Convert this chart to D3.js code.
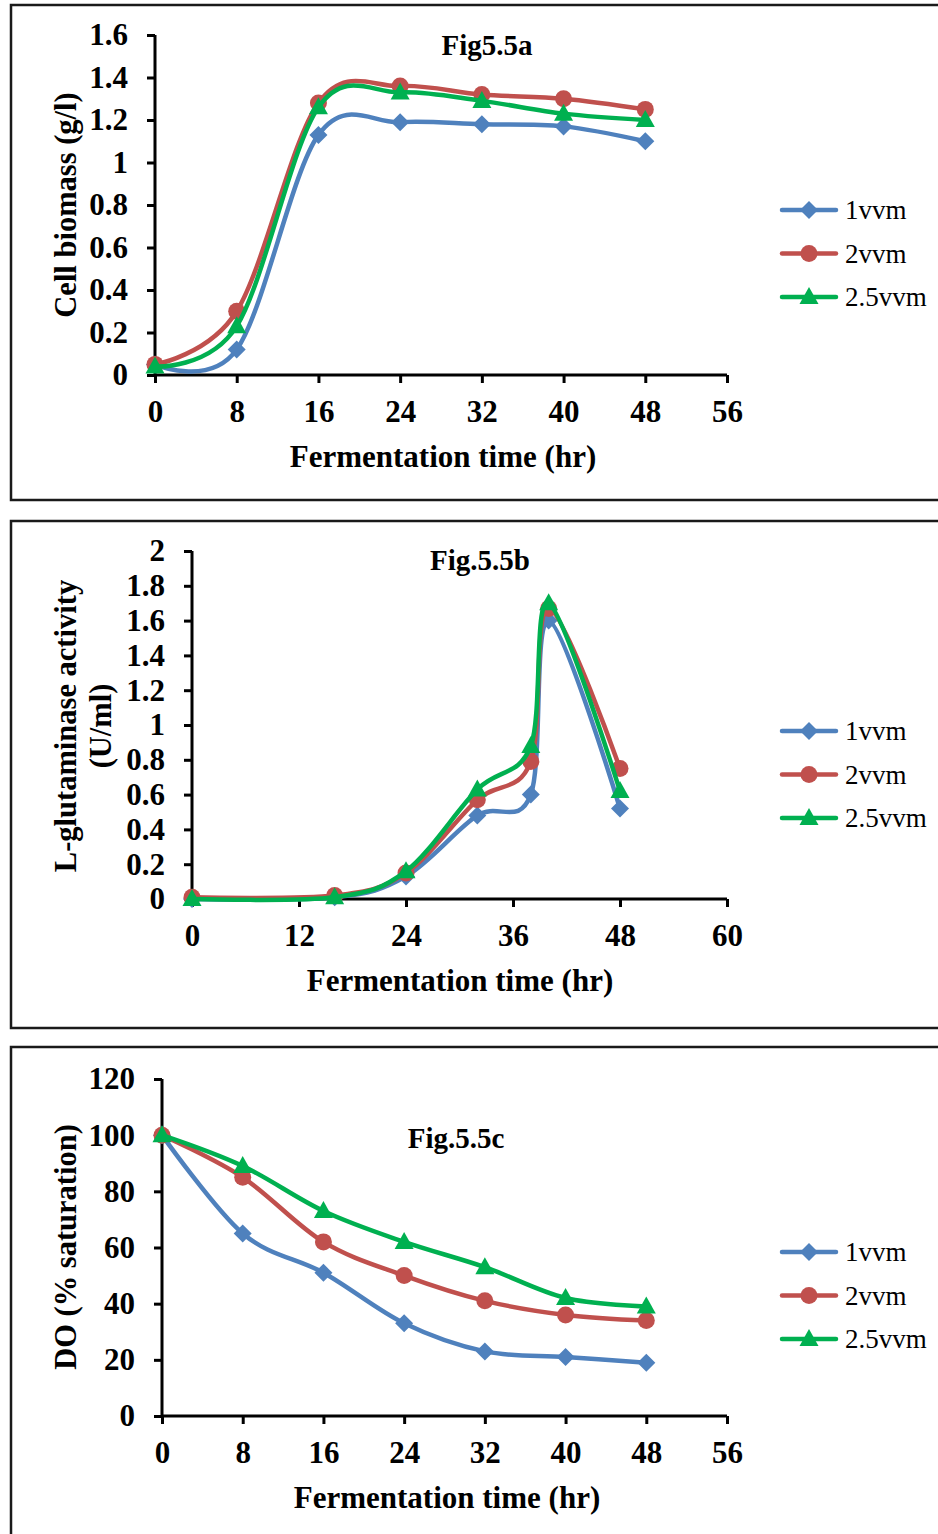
<!DOCTYPE html>
<html>
<head>
<meta charset="utf-8">
<script src="https://cdn.jsdelivr.net/npm/d3@7"></script>
<style>
  body { margin: 0; background: #fff; }
  svg text { font-family: "Liberation Serif", "Times New Roman", serif; fill: #000; }
</style>
</head>
<body>
<div id="chart"></div>
<script>
// series names and colours
const seriesNames = ["1vvm", "2vvm", "2.5vvm"];
const seriesColors = ["#4F81BD", "#C0504D", "#00B050"];

// Fig 5.5a - cell biomass (g/l)
const timeA = [0, 8, 16, 24, 32, 40, 48];
const biomass1 = [0.05, 0.12, 1.13, 1.19, 1.18, 1.17, 1.10];
const biomass2 = [0.05, 0.30, 1.28, 1.36, 1.32, 1.30, 1.25];
const biomass25 = [0.04, 0.23, 1.26, 1.33, 1.29, 1.23, 1.20];
const xTicksA = [0, 8, 16, 24, 32, 40, 48, 56];
const yTicksA = [0, 0.2, 0.4, 0.6, 0.8, 1, 1.2, 1.4, 1.6];

// Fig 5.5b - L-glutaminase activity (U/ml)
const timeB = [0, 16, 24, 32, 38, 40, 48];
const activity1 = [0.00, 0.01, 0.13, 0.48, 0.60, 1.60, 0.52];
const activity2 = [0.01, 0.02, 0.15, 0.57, 0.79, 1.67, 0.75];
const activity25 = [0.00, 0.01, 0.16, 0.63, 0.88, 1.70, 0.62];
const xTicksB = [0, 12, 24, 36, 48, 60];
const yTicksB = [0, 0.2, 0.4, 0.6, 0.8, 1, 1.2, 1.4, 1.6, 1.8, 2];

// Fig 5.5c - DO (% saturation)
const timeC = [0, 8, 16, 24, 32, 40, 48];
const do1 = [100, 65, 51, 33, 23, 21, 19];
const do2 = [100, 85, 62, 50, 41, 36, 34];
const do25 = [100, 89, 73, 62, 53, 42, 39];
const xTicksC = [0, 8, 16, 24, 32, 40, 48, 56];
const yTicksC = [0, 20, 40, 60, 80, 100, 120];

const width = 938, height = 1534;
const svg = d3.select("#chart").append("svg")
    .attr("width", width)
    .attr("height", height);

// panel layouts
const panels = [
    {
        box: [11, 5, 940, 500],
        x0: 155, x1: 727, yTop: 35, yBot: 375,
        time: timeA, series: [biomass1, biomass2, biomass25],
        xTicks: xTicksA, yTicks: yTicksA,
        title: "Fig5.5a", titleX: 487, titleY: 55,
        yLabel: ["Cell biomass (g/l)"], yLabelX: [65], yLabelY: 205,
        xLabelX: 443, legendY: 210
    },
    {
        box: [11, 521, 940, 1028],
        x0: 192, x1: 727, yTop: 551, yBot: 899,
        time: timeB, series: [activity1, activity2, activity25],
        xTicks: xTicksB, yTicks: yTicksB,
        title: "Fig.5.5b", titleX: 480, titleY: 570,
        yLabel: ["L-glutaminase activity", "(U/ml)"], yLabelX: [65, 100], yLabelY: 726,
        xLabelX: 460, legendY: 731
    },
    {
        box: [11, 1047, 940, 1545],
        x0: 162, x1: 727, yTop: 1079, yBot: 1416,
        time: timeC, series: [do1, do2, do25],
        xTicks: xTicksC, yTicks: yTicksC,
        title: "Fig.5.5c", titleX: 456, titleY: 1148,
        yLabel: ["DO (% saturation)"], yLabelX: [65], yLabelY: 1247,
        xLabelX: 447, legendY: 1252
    }
];

// marker shapes
function drawMarker(g, i, cx, cy, color) {
    if (i === 0) {
        g.append("path")
            .attr("d", `M${cx},${cy - 9}L${cx + 9},${cy}L${cx},${cy + 9}L${cx - 9},${cy}Z`)
            .attr("fill", color);
    } else if (i === 1) {
        g.append("circle")
            .attr("cx", cx).attr("cy", cy).attr("r", 8.5)
            .attr("fill", color);
    } else {
        g.append("path")
            .attr("d", `M${cx},${cy - 10}L${cx + 9.5},${cy + 7}L${cx - 9.5},${cy + 7}Z`)
            .attr("fill", color);
    }
}

const fmt = (v) => String(+v.toFixed(1));

panels.forEach((p) => {
    // outer frame
    svg.append("rect")
        .attr("x", p.box[0]).attr("y", p.box[1])
        .attr("width", p.box[2] - p.box[0]).attr("height", p.box[3] - p.box[1])
        .attr("fill", "none")
        .attr("stroke", "#1a1a1a")
        .attr("stroke-width", 2.5);

    const xScale = d3.scaleLinear()
        .domain([p.xTicks[0], p.xTicks[p.xTicks.length - 1]])
        .range([p.x0, p.x1]);
    const yScale = d3.scaleLinear()
        .domain([p.yTicks[0], p.yTicks[p.yTicks.length - 1]])
        .range([p.yBot, p.yTop]);

    const xAxis = d3.axisBottom(xScale)
        .tickValues(p.xTicks).tickSize(8).tickPadding(17).tickFormat(fmt);
    const yAxis = d3.axisLeft(yScale)
        .tickValues(p.yTicks).tickSize(8).tickPadding(19).tickFormat(fmt);

    const gx = svg.append("g")
        .attr("transform", "translate(0," + p.yBot + ")")
        .call(xAxis);
    const gy = svg.append("g")
        .attr("transform", "translate(" + p.x0 + ",0)")
        .call(yAxis);

    [gx, gy].forEach((g) => {
        g.select(".domain").attr("stroke", "#000").attr("stroke-width", 3);
        g.selectAll(".tick line").attr("stroke", "#000").attr("stroke-width", 3);
        g.selectAll(".tick text")
            .attr("font-family", "Liberation Serif, Times New Roman, serif")
            .attr("font-size", 31)
            .attr("font-weight", "bold")
            .attr("fill", "#000");
    });
    gx.select(".domain").attr("d", `M${p.x0},0H${p.x1}`);
    gy.select(".domain").attr("d", `M0,${p.yTop}V${p.yBot}`);

    // series lines + markers
    const line = d3.line()
        .x((d) => xScale(d[0]))
        .y((d) => yScale(d[1]))
        .curve(d3.curveCardinal);

    p.series.forEach((vals, i) => {
        const pts = p.time.map((t, k) => [t, vals[k]]);
        const g = svg.append("g");
        g.append("path")
            .datum(pts)
            .attr("d", line)
            .attr("fill", "none")
            .attr("stroke", seriesColors[i])
            .attr("stroke-width", 4.5)
            .attr("stroke-linejoin", "round");
        pts.forEach((d) => drawMarker(g, i, xScale(d[0]), yScale(d[1]), seriesColors[i]));
    });

    // title
    svg.append("text")
        .attr("x", p.titleX).attr("y", p.titleY)
        .attr("text-anchor", "middle")
        .attr("font-size", 29)
        .attr("font-weight", "bold")
        .text(p.title);

    // y label
    p.yLabel.forEach((lbl, k) => {
        svg.append("text")
            .attr("transform", `translate(${p.yLabelX[k]},${p.yLabelY}) rotate(-90)`)
            .attr("text-anchor", "middle")
            .attr("dy", "0.35em")
            .attr("font-size", 30.5)
            .attr("font-weight", "bold")
            .text(lbl);
    });

    // x label
    svg.append("text")
        .attr("x", p.xLabelX).attr("y", p.yBot + 92)
        .attr("text-anchor", "middle")
        .attr("font-size", 31)
        .attr("font-weight", "bold")
        .text("Fermentation time (hr)");

    // legend
    seriesNames.forEach((name, i) => {
        const ly = p.legendY + i * 43.5;
        const g = svg.append("g");
        g.append("line")
            .attr("x1", 782).attr("x2", 836)
            .attr("y1", ly).attr("y2", ly)
            .attr("stroke", seriesColors[i])
            .attr("stroke-width", 4.5)
            .attr("stroke-linecap", "round");
        drawMarker(g, i, 809, ly, seriesColors[i]);
        g.append("text")
            .attr("x", 845).attr("y", ly)
            .attr("dy", "0.35em")
            .attr("font-size", 27)
            .text(name);
    });
});
</script>
</body>
</html>
